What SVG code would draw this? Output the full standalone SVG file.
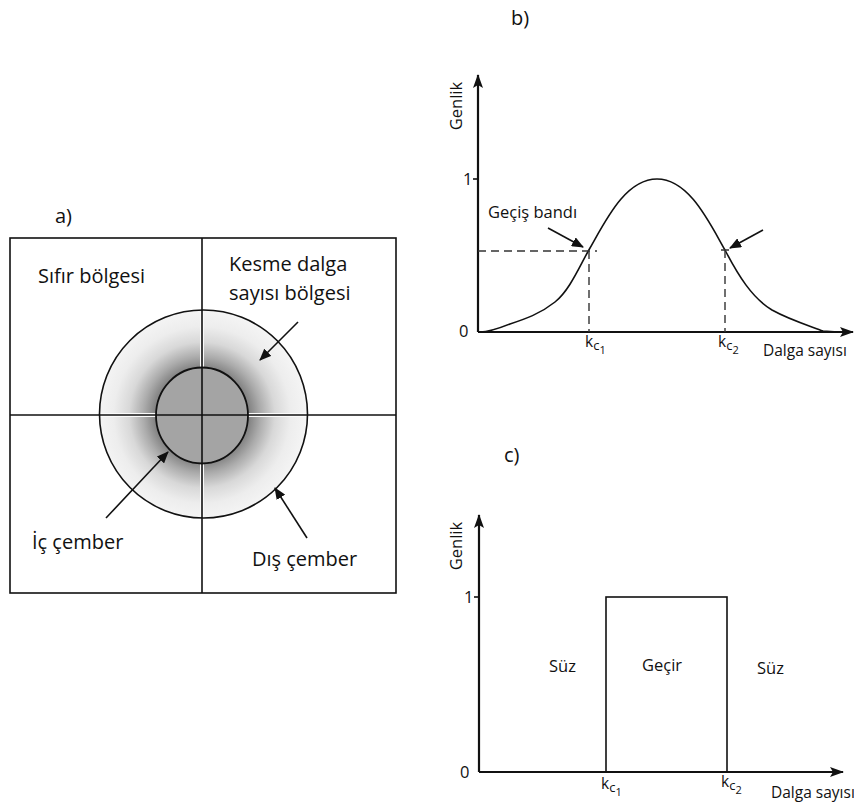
<svg xmlns="http://www.w3.org/2000/svg" width="854" height="803" viewBox="0 0 854 803">
<style>
text{font-family:"Open Sans","Liberation Sans",sans-serif;fill:#111}
.la{font-size:20px}
.lb{font-size:16.5px}
.lc{font-size:15.5px}
.ln{stroke:#111;stroke-width:1.6;fill:none}
.ax{stroke:#111;stroke-width:2.2;fill:none}
.ar{stroke:#111;stroke-width:1.6;fill:none;marker-end:url(#ah)}
.dash{stroke:#333;stroke-width:1.4;stroke-dasharray:8 5;fill:none}
</style>
<defs>
<marker id="ah" viewBox="0 0 12 10" refX="11" refY="5" markerWidth="12" markerHeight="10" markerUnits="userSpaceOnUse" orient="auto">
<path d="M0,0 L12,5 L0,10 Z" fill="#111"/>
</marker>
<marker id="axh" viewBox="0 0 14 10" refX="13" refY="5" markerWidth="14" markerHeight="10" markerUnits="userSpaceOnUse" orient="auto">
<path d="M0,0 L14,5 L0,10 L3,5 Z" fill="#111"/>
</marker>
<radialGradient id="ring" gradientUnits="userSpaceOnUse" cx="202" cy="415" r="104">
<stop offset="0" stop-color="#808080"/>
<stop offset="0.46" stop-color="#858585"/>
<stop offset="0.56" stop-color="#ababab"/>
<stop offset="0.7" stop-color="#d8d8d8"/>
<stop offset="0.85" stop-color="#ededed"/>
<stop offset="1" stop-color="#f4f4f4"/>
</radialGradient>
<clipPath id="outerClip"><circle cx="203.5" cy="414" r="104"/></clipPath>
</defs>

<!-- Panel a -->
<g id="panel-a">
<text class="la" x="55" y="223">a)</text>
<rect x="10" y="238" width="386" height="355" class="ln"/>
<g id="outer-circle">
<circle cx="203.5" cy="414" r="104" fill="url(#ring)"/>
<g clip-path="url(#outerClip)">
<line x1="202" y1="300" x2="202" y2="530" stroke="#fafafa" stroke-width="4"/>
<line x1="90" y1="415" x2="320" y2="415" stroke="#fafafa" stroke-width="4"/>
</g>
<circle cx="203.5" cy="414" r="104" class="ln"/>
</g>
<g id="inner-circle">
<ellipse cx="202" cy="415.5" rx="46" ry="48" fill="#a4a4a4" stroke="#111" stroke-width="1.8"/>
</g>
<line x1="202" y1="238" x2="202" y2="593" class="ln"/>
<line x1="10" y1="415" x2="396" y2="415" class="ln"/>
<g id="label-sifir"><text class="la" x="38" y="283">Sıfır bölgesi</text></g>
<g id="label-kesme"><text class="la" x="229" y="271">Kesme dalga</text><text class="la" x="229" y="300">sayısı bölgesi</text></g>
<g id="label-ic"><text class="la" x="32" y="549">İç çember</text></g>
<g id="label-dis"><text class="la" x="252" y="566">Dış çember</text></g>
<g id="arrows-a">
<line x1="298" y1="322" x2="260" y2="360" class="ar"/>
<line x1="106" y1="518" x2="168" y2="452" class="ar"/>
<line x1="307" y1="538" x2="275" y2="488" class="ar"/>
</g>
</g>

<!-- Panel b -->
<g id="panel-b">
<text class="la" x="511" y="25">b)</text>
<line x1="478" y1="332" x2="478" y2="75" class="ax" marker-end="url(#axh)"/>
<line x1="478" y1="332" x2="853" y2="332" class="ax" marker-end="url(#axh)"/>
<line x1="473" y1="179" x2="478" y2="179" class="ln"/>
<text class="lb" x="463" y="185">1</text>
<text class="lb" x="459" y="337">0</text>
<text class="lb" transform="translate(462,106) rotate(-90)" text-anchor="middle">Genlik</text>
<path class="ln" stroke-width="1.8" d="M480,332 C490,332 500,328 510,324 C525,319 540,314 555,302 C570,290 580,265 590,248 C605,222 625,179 657,179 C689,179 709,222 725,250 C738,275 752,298 772,310 C790,320 810,326 823,331 L838,332"/>
<path class="dash" d="M478,251 H597 M589,251 V332 M721,250 H730 M725,250 V332"/>
<g id="label-gecis"><text class="lb" x="488" y="218">Geçiş bandı</text></g>
<line x1="548" y1="228" x2="583" y2="247" class="ar"/>
<line x1="763" y1="230" x2="730" y2="248" class="ar"/>
<text class="lc" x="585" y="347">k<tspan font-size="13" dy="3">c</tspan><tspan font-size="11" dy="4">1</tspan></text>
<text class="lc" x="718" y="347">k<tspan font-size="13" dy="3">c</tspan><tspan font-size="11" dy="4">2</tspan></text>
<text class="lc" x="763" y="356">Dalga sayısı</text>
</g>

<!-- Panel c -->
<g id="panel-c">
<text class="la" x="504" y="462">c)</text>
<line x1="479" y1="772" x2="479" y2="515" class="ax" marker-end="url(#axh)"/>
<line x1="479" y1="772" x2="843" y2="772" class="ax" marker-end="url(#axh)"/>
<line x1="474" y1="597" x2="479" y2="597" class="ln"/>
<text class="lb" x="464" y="603">1</text>
<text class="lb" x="460" y="778">0</text>
<text class="lb" transform="translate(462,546) rotate(-90)" text-anchor="middle">Genlik</text>
<g id="pass-rect"><rect x="606" y="597" width="121" height="175" class="ln" stroke-width="1.4"/></g>
<text class="lb" x="549" y="672">Süz</text>
<text class="lb" x="642" y="671">Geçir</text>
<text class="lb" x="757" y="674">Süz</text>
<text class="lc" x="601" y="789">k<tspan font-size="13" dy="3">c</tspan><tspan font-size="11" dy="4">1</tspan></text>
<text class="lc" x="721" y="787">k<tspan font-size="13" dy="3">c</tspan><tspan font-size="11" dy="4">2</tspan></text>
<text class="lc" x="771" y="798">Dalga sayısı</text>
</g>
</svg>
